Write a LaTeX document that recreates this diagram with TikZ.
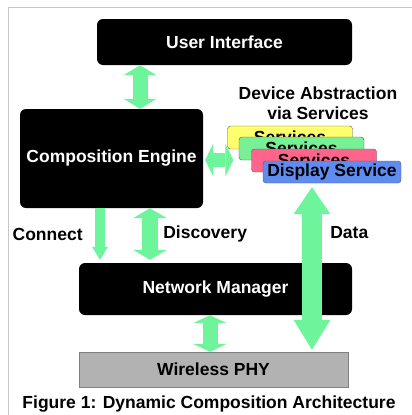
\documentclass[tikz,border=0pt]{standalone}
\usepackage{fontspec}
\setmainfont{Liberation Sans}
\usetikzlibrary{arrows.meta}

\definecolor{mint}{RGB}{110,245,155}
\definecolor{svcyellow}{RGB}{255,255,110}
\definecolor{svcgreen}{RGB}{120,240,150}
\definecolor{svcpink}{RGB}{255,100,140}
\definecolor{svcblue}{RGB}{95,140,240}

\begin{document}
\begin{tikzpicture}[x=1pt, y=-1pt,
		f/.style={font=\fontsize{17.5}{20}\selectfont\bfseries},
		b/.style={f, rectangle, rounded corners=6pt, fill=black, text=white, inner sep=0pt},
		s/.style={f, rectangle, rounded corners=3pt, draw=black!65, minimum width=125pt, minimum height=23pt, inner sep=0pt},
		g/.style={draw=mint, line width=#1}]
		\useasboundingbox (0,0) rectangle (412,415);
		\draw[black!22] (8,415) -- (8,7) -- (412,7);

		\node[b, minimum width=255pt, minimum height=46pt] (UI) at (224.5,42) {User Interface};
		\node[b, minimum width=183pt, minimum height=99pt] (CE) at (111.5,158.5) {Composition Engine};
		\node[b, minimum width=273pt, minimum height=52pt] (NM) at (215.5,289) {Network Manager};
		\node[f, rectangle, fill=black!30, draw=black!50, minimum width=269pt, minimum height=35pt] (PHY) at (213.5,369.5) {Wireless PHY};

		\node[f, align=center, inner sep=0pt] (DA) at (318,103) {Device Abstraction\\via Services};
		\node[s, fill=svcyellow] (S1) at (290,137.5) {Services};
		\node[s, fill=svcgreen] (S2) at (301.5,148.5) {Services};
		\node[s, fill=svcpink] (S3) at (314,160.5) {Services};
		\node[s, fill=svcblue, minimum width=138pt, minimum height=22pt] (DS) at (332,172) {Display Service};

		\draw[g=15pt, {Triangle[width=33pt,length=10pt,line width=0pt]}-{Triangle[width=33pt,length=10pt,line width=0pt]}] (UI.south -| 140,0) -- (CE.north -| 140,0);
		\draw[g=14pt, {Triangle[width=33pt,length=8pt,line width=0pt]}-{Triangle[width=33pt,length=8pt,line width=0pt]}] ([xshift=2pt]CE.east |- 0,160) -- ([xshift=6pt]S1.west |- 0,160);
		\draw[g=10pt, -{Triangle[width=16pt,length=13pt,line width=0pt]}] (CE.south -| 100,0) -- ([yshift=3pt]NM.north -| 100,0) node[pos=0.5, left=9pt, black, f] (CN) {Connect};
		\draw[g=16pt, {Triangle[width=34pt,length=10pt,line width=0pt]}-{Triangle[width=34pt,length=10pt,line width=0pt]}] (CE.south -| 150,0) -- ([yshift=3pt]NM.north -| 150,0) node[pos=0.5, right=2pt, black, f] (DC) {Discovery};
		\draw[g=20pt, {Triangle[width=37pt,length=27pt,line width=0pt]}-{Triangle[width=37pt,length=30pt,line width=0pt]}] ([yshift=-4pt]DS.south -| 312,0) -- ([yshift=2pt]PHY.north -| 312,0) node[pos=0.28, right=5pt, black, f] (DT) {Data};
		\draw[g=15pt, {Triangle[width=34pt,length=8pt,line width=0pt]}-{Triangle[width=34pt,length=8pt,line width=0pt]}] (NM.south -| 210,0) -- (PHY.north -| 210,0);

		\node[f] (CAP) at (209,404) {Figure 1: Dynamic Composition Architecture};
\end{tikzpicture}
\end{document}
